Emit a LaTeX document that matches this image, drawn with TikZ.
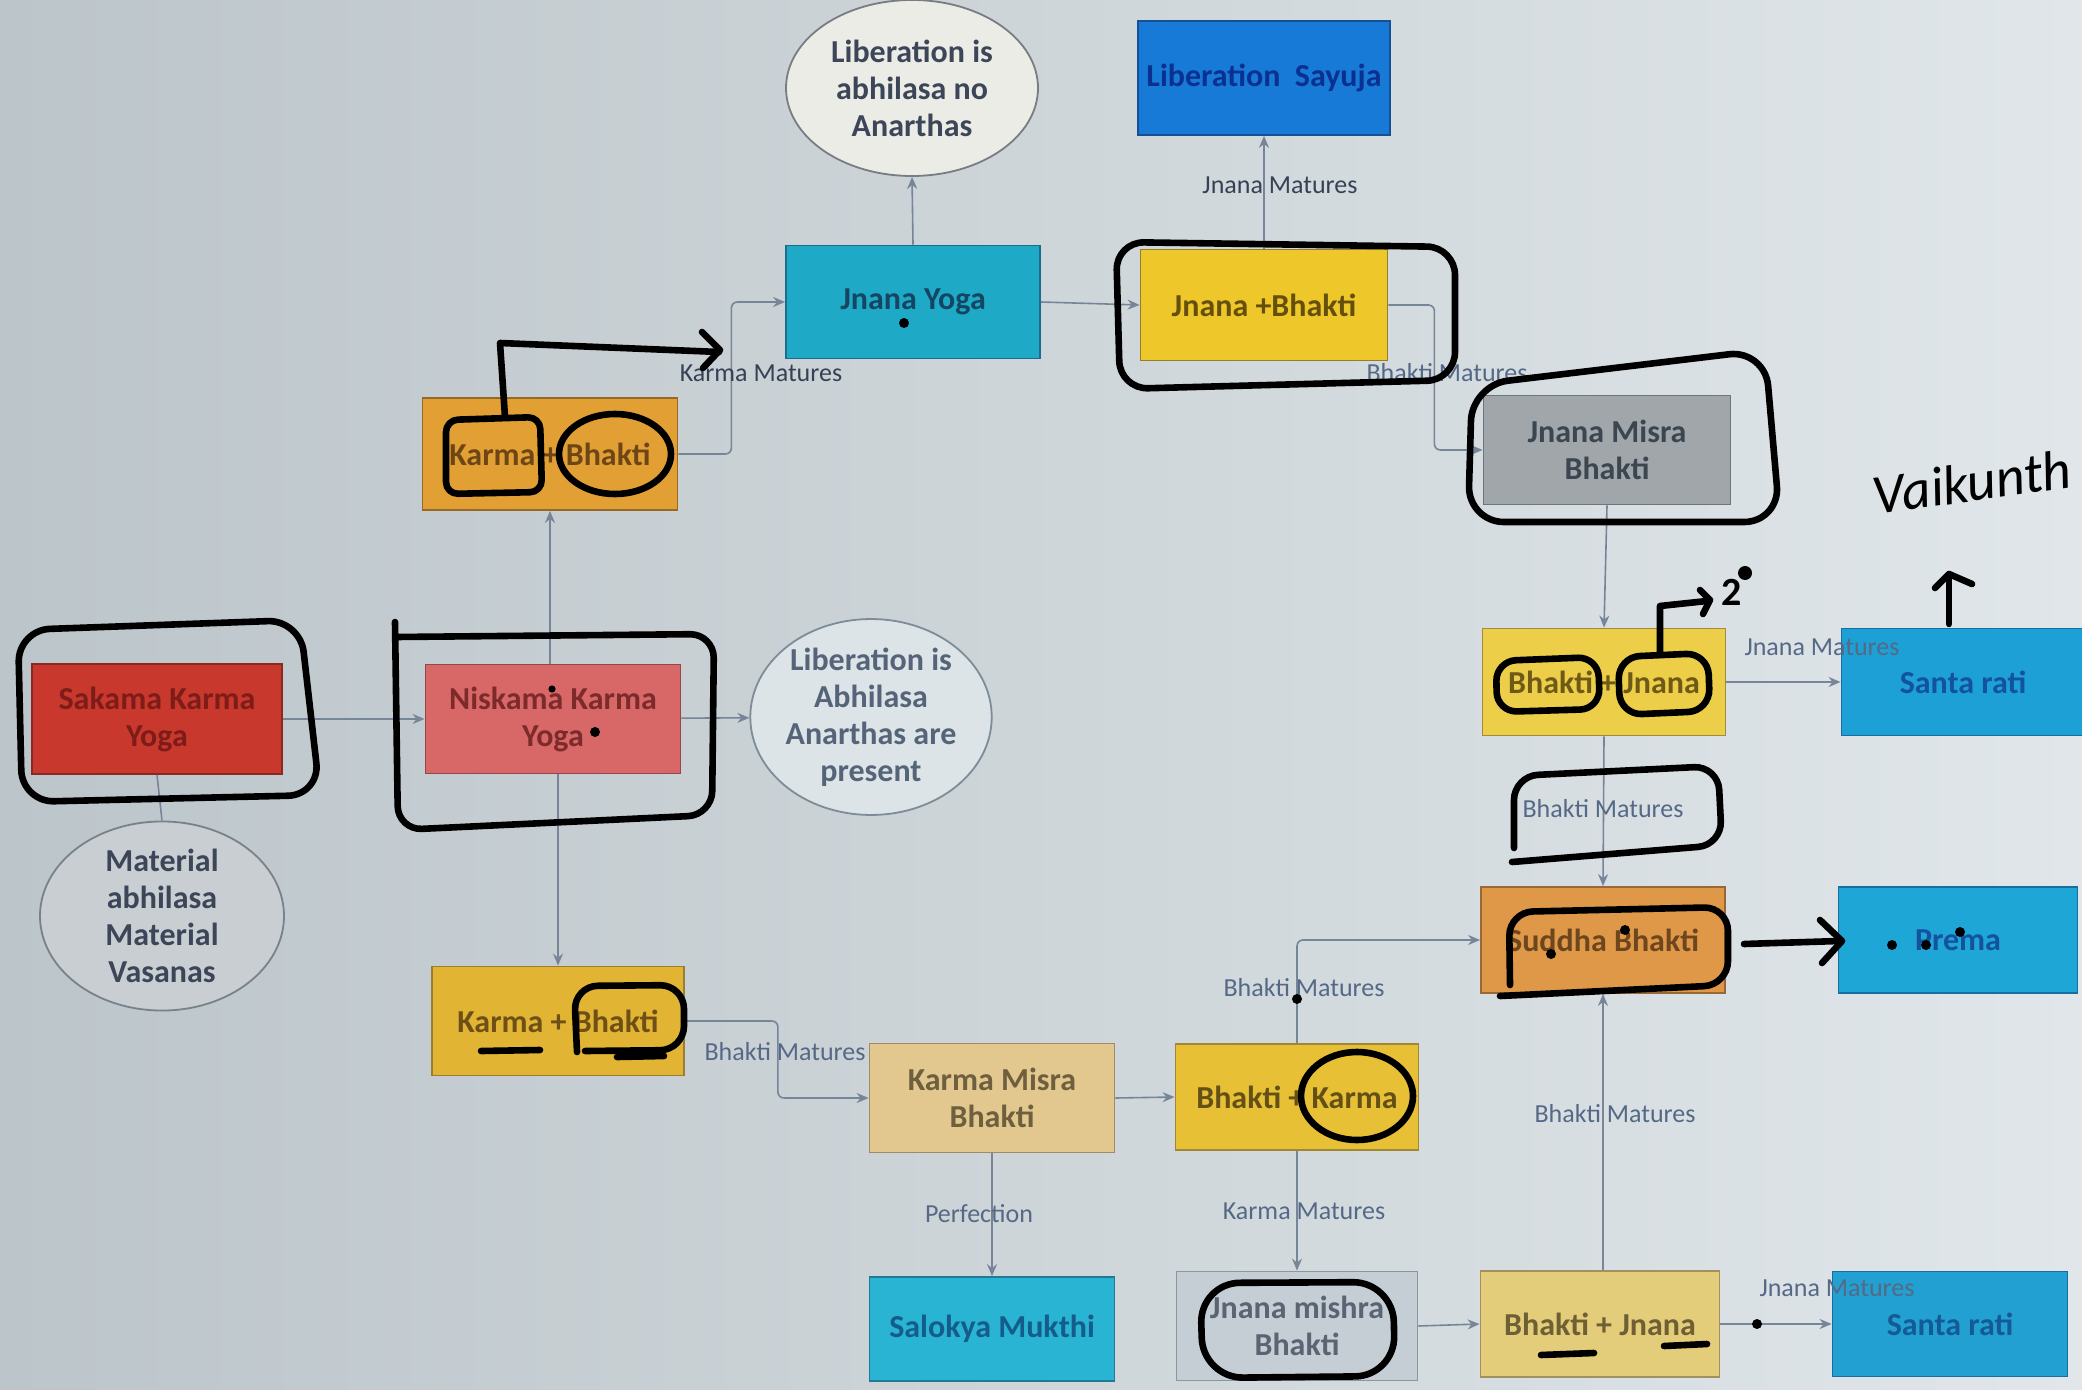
\documentclass[tikz,border=0pt]{standalone}
\usepackage{fontspec}
\setmainfont{Carlito}
\usetikzlibrary{arrows.meta,shapes.geometric}
\definecolor{lc}{RGB}{118,134,152}
\definecolor{lblc}{RGB}{85,105,135}
\definecolor{lbldark}{RGB}{55,65,85}
\definecolor{elltext}{RGB}{60,70,88}
\begin{document}
\begin{tikzpicture}[x=0.5pt,y=-0.5pt,
  sz/.style 2 args={minimum width=#1*0.5pt, minimum height=#2*0.5pt},
  box/.style={rectangle, line width=0.9pt, inner sep=2pt, align=center,
    font=\fontsize{16}{18.5}\selectfont\bfseries},
  ell/.style={ellipse, line width=0.9pt, inner sep=0pt, align=center,
    font=\fontsize{16}{18.5}\selectfont\bfseries, text=elltext},
  conn/.style={draw=lc, line width=0.8pt, -{Stealth[length=6pt,width=5pt]}, rounded corners=3pt},
  plain/.style={draw=lc, line width=0.8pt},
  lbl/.style={font=\fontsize{13}{15}\selectfont, text=lblc, inner sep=1pt},
  hand/.style={draw=black, line width=3.3pt, line cap=round, line join=round},
  handtext/.style={font=\fontsize{28}{30}\selectfont\itshape, text=black, inner sep=0pt}
]
\useasboundingbox (0,0) rectangle (2082,1390);
\clip (0,0) rectangle (2082,1390);
\shade[left color={rgb,255:red,188;green,197;blue,202}, right color={rgb,255:red,224;green,230;blue,233}] (0,0) rectangle (2082,1390);

% ---- nodes ----
\node[box, sz={250}{110}, fill={rgb,255:red,200;green,56;blue,44}, draw={rgb,255:red,140;green,40;blue,35}, text={rgb,255:red,125;green,28;blue,24}] (sak) at (157,719) {Sakama Karma\\Yoga};
\node[box, sz={255}{109}, fill={rgb,255:red,216;green,104;blue,104}, draw={rgb,255:red,150;green,70;blue,70}, text={rgb,255:red,125;green,42;blue,42}] (nis) at (553,719) {Niskama Karma\\Yoga};
\node[box, sz={255}{112}, fill={rgb,255:red,226;green,160;blue,52}, draw={rgb,255:red,150;green,105;blue,40}, text={rgb,255:red,110;green,70;blue,22}] (kbt) at (550,454) {Karma + Bhakti};
\node[box, sz={254}{113}, fill={rgb,255:red,30;green,170;blue,198}, draw={rgb,255:red,25;green,110;blue,140}, text={rgb,255:red,20;green,70;blue,100}] (jy) at (913,302) {Jnana Yoga};
\node[box, sz={252}{114}, fill={rgb,255:red,22;green,122;blue,214}, draw={rgb,255:red,20;green,80;blue,150}, text={rgb,255:red,10;green,48;blue,145}] (say) at (1264,78) {Liberation~ Sayuja};
\node[box, sz={247}{111}, fill={rgb,255:red,238;green,200;blue,42}, draw={rgb,255:red,150;green,125;blue,40}, text={rgb,255:red,100;green,80;blue,12}] (jb) at (1264,305) {Jnana +Bhakti};
\node[box, sz={247}{109}, fill={rgb,255:red,160;green,166;blue,170}, draw={rgb,255:red,110;green,118;blue,125}, text={rgb,255:red,60;green,70;blue,80}] (jmb) at (1607,450) {Jnana Misra\\Bhakti};
\node[box, sz={243}{107}, fill={rgb,255:red,236;green,206;blue,72}, draw={rgb,255:red,160;green,140;blue,60}, text={rgb,255:red,110;green,90;blue,22}] (bj) at (1604,682) {Bhakti + Jnana};
\node[box, sz={243}{107}, fill={rgb,255:red,28;green,160;blue,214}, draw={rgb,255:red,25;green,110;blue,160}, text={rgb,255:red,20;green,82;blue,160}] (st1) at (1963,682) {Santa rati};
\node[box, sz={244}{106}, fill={rgb,255:red,222;green,152;blue,72}, draw={rgb,255:red,150;green,105;blue,55}, text={rgb,255:red,110;green,70;blue,30}] (sud) at (1603,940) {Suddha Bhakti};
\node[box, sz={239}{106}, fill={rgb,255:red,30;green,166;blue,214}, draw={rgb,255:red,25;green,110;blue,160}, text={rgb,255:red,20;green,82;blue,160}] (pre) at (1958,940) {Prema};
\node[box, sz={252}{109}, fill={rgb,255:red,226;green,180;blue,52}, draw={rgb,255:red,155;green,125;blue,50}, text={rgb,255:red,110;green,80;blue,22}] (kbb) at (558,1021) {Karma + Bhakti};
\node[box, sz={245}{109}, fill={rgb,255:red,226;green,200;blue,142}, draw={rgb,255:red,160;green,140;blue,100}, text={rgb,255:red,110;green,95;blue,62}] (kmb) at (992,1098) {Karma Misra\\Bhakti};
\node[box, sz={243}{106}, fill={rgb,255:red,232;green,192;blue,54}, draw={rgb,255:red,160;green,135;blue,55}, text={rgb,255:red,100;green,80;blue,22}] (bk) at (1297,1097) {Bhakti + Karma};
\node[box, sz={245}{104}, fill={rgb,255:red,40;green,180;blue,210}, draw={rgb,255:red,35;green,120;blue,150}, text={rgb,255:red,20;green,92;blue,140}] (sal) at (992,1329) {Salokya Mukthi};
\node[box, sz={241}{109}, fill={rgb,255:red,196;green,206;blue,212}, draw={rgb,255:red,140;green,150;blue,158}, text={rgb,255:red,90;green,100;blue,115}] (jnmb) at (1297,1326) {Jnana mishra\\Bhakti};
\node[box, sz={239}{106}, fill={rgb,255:red,228;green,205;blue,122}, draw={rgb,255:red,160;green,145;blue,95}, text={rgb,255:red,110;green,95;blue,52}] (bjb) at (1600,1324) {Bhakti + Jnana};
\node[box, sz={235}{105}, fill={rgb,255:red,34;green,160;blue,210}, draw={rgb,255:red,25;green,110;blue,160}, text={rgb,255:red,20;green,90;blue,150}] (st2) at (1950,1324) {Santa rati};

\node[ell, sz={252}{176}, fill={rgb,255:red,236;green,236;blue,230}, draw={rgb,255:red,120;green,125;blue,130}] (libt) at (912,88) {Liberation is\\abhilasa no\\Anarthas};
\node[ell, sz={234}{176}, fill={rgb,255:red,220;green,228;blue,232}, draw={rgb,255:red,125;green,140;blue,150}, text={rgb,255:red,85;green,100;blue,120}] (libm) at (871,717) {Liberation is\\Abhilasa\\Anarthas are\\present};
\node[ell, sz={244}{186}, fill={rgb,255:red,200;green,206;blue,209}, draw={rgb,255:red,120;green,130;blue,138}] (mat) at (162,916) {Material\\abhilasa\\Material\\Vasanas};

% ---- connectors ----
\draw[conn] (sak) -- (nis);
\draw[plain] (sak.south) -- (mat.north);
\draw[conn] (nis) -- (libm);
\draw[conn] (nis.north -| kbt.south) -- (kbt.south);
\draw[conn] (nis.south -| kbb.north) -- (kbb.north);
\draw[conn] (kbt.east) -- ++(53,0) |- (jy.west);
\draw[conn] (jy.north) -- (libt.south);
\draw[conn] (jy.east) -- (jb.west);
\draw[conn] (jb.north) -- (say.south);
\draw[conn] (jb.east) -- ++(46,0) |- (jmb.west);
\draw[conn] (jmb.south) -- (bj.north);
\draw[conn] (bj.east) -- (st1.west);
\draw[conn] (bj.south) -- (sud.north);
\draw[conn] (kbb.east) -- ++(93,0) |- (kmb.west);
\draw[conn] (kmb.east) -- (bk.west);
\draw[conn] (kmb.south) -- (sal.north);
\draw[conn] (bk.north) |- (sud.west);
\draw[conn] (bk.south) -- (jnmb.north);
\draw[conn] (jnmb.east) -- (bjb.west);
\draw[conn] (bjb.north -| sud.south) -- (sud.south);
\draw[conn] (bjb.east) -- (st2.west);

% ---- labels ----
\node[lbl, text=lbldark] (l1) at (761,373) {Karma Matures};
\node[lbl, text=lbldark] (l2) at (1280,185) {Jnana Matures};
\node[lbl] (l3) at (1447,373) {Bhakti Matures};
\node[lbl] (l4) at (1822,647) {Jnana Matures};
\node[lbl] (l5) at (1603,809) {Bhakti Matures};
\node[lbl] (l6) at (785,1052) {Bhakti Matures};
\node[lbl] (l7) at (979,1214) {Perfection};
\node[lbl] (l8) at (1304,988) {Bhakti Matures};
\node[lbl] (l9) at (1304,1211) {Karma Matures};
\node[lbl] (l10) at (1615,1114) {Bhakti Matures};
\node[lbl] (l11) at (1837,1288) {Jnana Matures};

% ---- hand annotations ----
\draw[hand, rounded corners=16pt] (18,630) -- (300,620) -- (320,795) -- (22,802) -- cycle;
\draw[hand, rounded corners=12pt] (395,622) -- (398,830) -- (712,815) -- (714,634) -- (396,637);
\draw[hand, rounded corners=6pt] (446,420) -- (540,417) -- (542,492) -- (446,494) -- cycle;
\draw[hand] (615,454) ellipse [x radius=28pt, y radius=20pt];
\draw[hand] (505,417) -- (500,343) -- (719,352);
\draw[hand] (702,332) -- (720,350) -- (703,368);
\draw[hand, rounded corners=14pt] (1116,242) -- (1455,247) -- (1455,380) -- (1120,389) -- cycle;
\draw[hand, rounded corners=18pt] (1472,385) -- (1765,350) -- (1780,522) -- (1468,522) -- cycle;
\draw[hand, rounded corners=10pt] (1496,661) -- (1598,657) -- (1600,709) -- (1497,712) -- cycle;
\draw[hand, rounded corners=11pt] (1618,657) -- (1708,653) -- (1710,711) -- (1620,715) -- cycle;
\draw[hand] (1660,655) -- (1660,606) -- (1707,601);
\draw[hand] (1700,590) -- (1710,600) -- (1703,614);
\node[handtext, font=\fontsize{20}{22}\selectfont\bfseries] (two) at (1732,592) {2};
\fill (1745,573) circle (3.5pt);
\node[handtext, rotate=8] (vai) at (1972,482) {Vaikunth};
\draw[hand] (1949,624) -- (1949,575);
\draw[hand] (1935,588) -- (1949,574) -- (1972,584);
\draw[hand, rounded corners=12pt] (1514,848) -- (1514,776) -- (1718,766) -- (1722,845) -- (1512,862);
\draw[hand, rounded corners=12pt] (1510,985) -- (1509,912) -- (1728,907) -- (1728,985) -- (1500,996);
\draw[hand] (1744,944) -- (1839,941);
\draw[hand] (1820,920) -- (1842,941) -- (1822,963);
\draw[hand, rounded corners=12pt] (577,1052) -- (574,986) -- (684,985) -- (684,1050) -- (585,1051);
\draw[hand] (481,1051) -- (540,1050);
\draw[hand] (617,1057) -- (664,1056);
\draw[hand] (1357,1096) ellipse [x radius=28pt, y radius=22pt];
\draw[hand, rounded corners=20pt] (1200,1283) -- (1393,1282) -- (1395,1376) -- (1203,1378) -- cycle;
\draw[hand] (1541,1355) -- (1594,1353);
\draw[hand] (1664,1346) -- (1707,1344);
% dots
\fill (904,323) circle (2.5pt);
\fill (595,732) circle (2.5pt);
\fill (552,689) circle (1.8pt);
\fill (1297,999) circle (2.5pt);
\fill (1551,954) circle (2.5pt);
\fill (1625,930) circle (2.5pt);
\fill (1892,945) circle (2.5pt);
\fill (1926,945) circle (2.5pt);
\fill (1960,932) circle (2.5pt);
\fill (1757,1324) circle (2.5pt);
\end{tikzpicture}
\end{document}
